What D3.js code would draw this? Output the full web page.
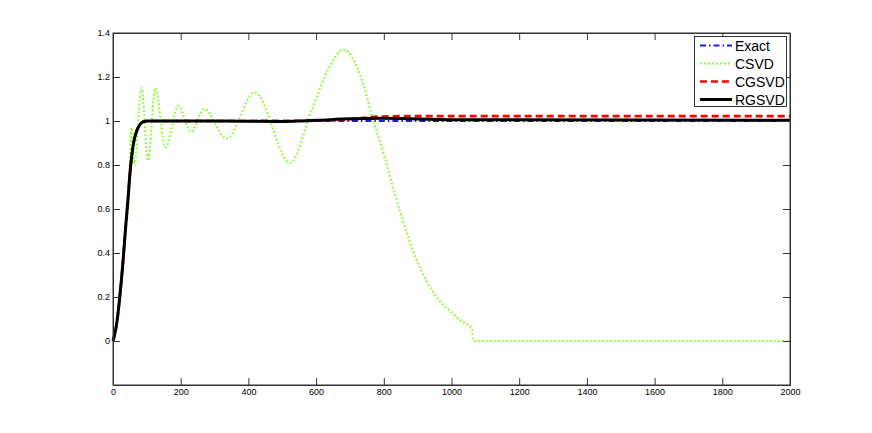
<!DOCTYPE html>
<html><head><meta charset="utf-8">
<script src="https://cdn.jsdelivr.net/npm/d3@7"></script>
<style>body{margin:0;background:#fff}svg{display:block}text{font-family:"Liberation Sans",Arial,sans-serif}</style>
</head><body><svg id="c" width="872" height="433"></svg>
<script>
// ---- data ----
const xTicks = [0,200,400,600,800,1000,1200,1400,1600,1800,2000];
const yTicks = [0,0.2,0.4,0.6,0.8,1,1.2,1.4];
const seriesNames = ["Exact","CSVD","CGSVD","RGSVD"];

const exactX = [0,5,10,20,30,38,44,50,56,62,70,80,90,100,110,2000];
const exactY = [0,0.03,0.07,0.2,0.37,0.53,0.64,0.76,0.85,0.91,0.955,0.985,0.997,1,1,1];

const csvdX = [0,10,20,30,38,45,55,63,84,104,125,155,193,230,270,335,419,523,587,641,680,739,769,789,848,897,956,1000,1030,1060,1065,2000];
const csvdY = [0,0.07,0.2,0.37,0.5,0.6,0.97,0.8,1.15,0.82,1.15,0.88,1.07,0.95,1.055,0.92,1.13,0.81,1.05,1.25,1.325,1.17,1.0,0.906,0.588,0.368,0.2,0.13,0.09,0.058,0,0];

const cgsvdX = [0,5,10,20,30,38,44,50,56,62,70,80,90,100,110,300,600,700,780,850,2000];
const cgsvdY = [0,0.03,0.07,0.2,0.37,0.53,0.64,0.76,0.85,0.91,0.955,0.985,0.997,1,1,1,1.002,1.008,1.02,1.022,1.022];

const rgsvdX = [0,5,10,20,30,38,44,50,56,62,70,80,90,100,110,300,500,600,700,800,1000,2000];
const rgsvdY = [0,0.03,0.07,0.2,0.37,0.53,0.64,0.76,0.85,0.91,0.955,0.985,0.997,1,1,1.0,0.998,1.003,1.01,1.012,1.006,1.003];

// ---- chart ----
const svg = d3.select("#c");
const L=113, R=790, T=33, B=385;
const x = d3.scaleLinear().domain([0,2000]).range([L,R]);
const y = d3.scaleLinear().domain([-0.2,1.4]).range([B,T]);
const axisColor = "#333";

const series = [
  {name:"Exact", xs:exactX, ys:exactY, color:"#1a1aff", width:2, dash:"6,3,1.5,3"},
  {name:"CSVD", xs:csvdX, ys:csvdY, color:"#80ff20", width:2, dash:"1.8,2.2"},
  {name:"CGSVD", xs:cgsvdX, ys:cgsvdY, color:"#ff0000", width:2.6, dash:"7,4"},
  {name:"RGSVD", xs:rgsvdX, ys:rgsvdY, color:"#000000", width:3, dash:null}
];

const line = d3.line().x(d=>x(d[0])).y(d=>y(d[1])).curve(d3.curveMonotoneX);
series.forEach(s=>{
  const pts = s.xs.map((v,i)=>[v,s.ys[i]]);
  svg.append("path").attr("d",line(pts)).attr("fill","none")
    .attr("stroke",s.color).attr("stroke-width",s.width)
    .attr("stroke-dasharray",s.dash).attr("stroke-linejoin","round");
});

// axes (box with inward ticks, MATLAB style)
const gxB = svg.append("g").attr("transform",`translate(0,${B})`)
  .call(d3.axisBottom(x).tickValues(xTicks).tickSize(-7).tickPadding(4).tickFormat(d3.format("d")));
const gxT = svg.append("g").attr("transform",`translate(0,${T})`)
  .call(d3.axisTop(x).tickValues(xTicks).tickSize(-7).tickFormat(""));
const gyL = svg.append("g").attr("transform",`translate(${L},0)`)
  .call(d3.axisLeft(y).tickValues(yTicks).tickSize(-7).tickPadding(3).tickFormat(d=>d3.format("")(+d.toFixed(1))));
const gyR = svg.append("g").attr("transform",`translate(${R},0)`)
  .call(d3.axisRight(y).tickValues(yTicks).tickSize(-7).tickFormat(""));
[gxB,gxT,gyL,gyR].forEach(g=>{
  g.selectAll(".domain").attr("stroke",axisColor).attr("stroke-width",1);
  g.selectAll(".tick line").attr("stroke",axisColor).attr("stroke-width",1);
  g.selectAll("text").attr("font-size",9).attr("fill","#000").attr("font-family","'Liberation Sans',Arial,sans-serif");
});
svg.append("rect").attr("x",L).attr("y",T).attr("width",R-L).attr("height",B-T)
  .attr("fill","none").attr("stroke",axisColor).attr("stroke-width",1);

// legend
const lg = svg.append("g");
lg.append("rect").attr("x",694.5).attr("y",36.5).attr("width",92).attr("height",70)
  .attr("fill","#fff").attr("stroke","#000").attr("stroke-width",0.8);
series.forEach((s,i)=>{
  const yy = 45.5 + i*18;
  lg.append("line").attr("x1",700).attr("x2",732).attr("y1",yy).attr("y2",yy)
    .attr("stroke",s.color).attr("stroke-width",s.width).attr("stroke-dasharray",s.dash);
  lg.append("text").attr("x",735).attr("y",yy+5).attr("font-size",14).attr("fill","#000").text(s.name);
});
</script></body></html>
